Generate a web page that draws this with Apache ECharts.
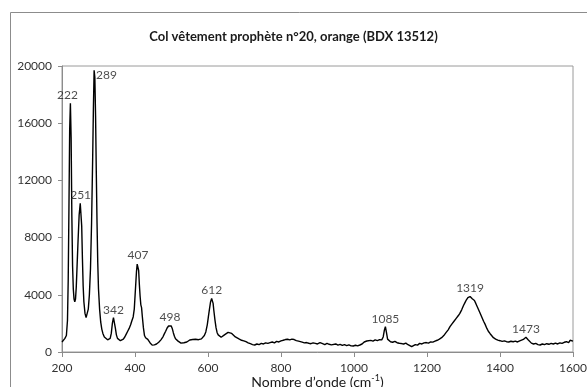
<!DOCTYPE html>
<html>
<head>
<meta charset="utf-8">
<script src="https://cdn.jsdelivr.net/npm/echarts@6/dist/echarts.min.js"></script>
<style>
  html, body { margin: 0; padding: 0; background: #fff; }
  #main { width: 587px; height: 387px; }
</style>
</head>
<body>
<div id="main"></div>
<script>
// wavenumber (cm-1) and intensity
const waveNumbers = [
  200, 204, 208, 212, 215, 217, 219, 221, 223, 225, 227, 229, 231, 233, 235, 237, 239, 241, 244, 247,
  250, 252, 254, 256, 258, 260, 263, 266, 269, 272, 275, 278, 281, 284, 286, 288, 290, 292, 294, 296,
  298, 300, 303, 306, 309, 312, 316, 320, 325, 329, 332, 335, 338, 341, 343, 346, 349, 352, 356, 360,
  364, 368, 372, 376, 380, 384, 388, 391, 395, 398, 401, 404, 406, 408, 410, 412, 414, 416, 418, 420,
  423, 426, 429, 432, 435, 438, 441, 444, 447, 450, 453, 456, 459, 462, 465, 468, 471, 474, 477, 480,
  484, 488, 492, 496, 499, 502, 505, 508, 511, 514, 518, 522, 526, 530, 534, 538, 542, 546, 550, 554,
  558, 562, 566, 570, 574, 578, 582, 586, 590, 594, 598, 601, 604, 607, 610, 612, 614, 616, 619, 622,
  625, 628, 632, 636, 640, 645, 650, 655, 660, 665, 670, 675, 680, 686, 692, 698, 704, 710, 716, 722,
  728, 734, 740, 746, 752, 758, 764, 770, 776, 782, 788, 794, 800, 806, 812, 818, 824, 830, 836, 842,
  848, 852, 858, 864, 870, 876, 882, 888, 894, 900, 907, 914, 920, 926, 932, 938, 943, 950, 956, 962,
  968, 974, 980, 986, 992, 998, 1004, 1010, 1016, 1022, 1028, 1035, 1040, 1046, 1052, 1058, 1064, 1070, 1076, 1080,
  1083, 1086, 1089, 1092, 1096, 1100, 1106, 1112, 1118, 1124, 1130, 1136, 1142, 1148, 1153, 1158, 1163, 1168, 1174, 1180,
  1186, 1192, 1198, 1204, 1210, 1216, 1222, 1228, 1234, 1240, 1246, 1252, 1258, 1263, 1268, 1274, 1280, 1286, 1290, 1295,
  1300, 1304, 1308, 1312, 1315, 1318, 1321, 1324, 1327, 1330, 1334, 1338, 1341, 1345, 1350, 1355, 1359, 1364, 1368, 1373,
  1377, 1382, 1388, 1394, 1400, 1406, 1412, 1418, 1424, 1430, 1436, 1442, 1448, 1454, 1459, 1464, 1468, 1471, 1474, 1477,
  1481, 1486, 1492, 1498, 1504, 1510, 1516, 1522, 1528, 1534, 1540, 1546, 1552, 1558, 1564, 1570, 1576, 1582, 1588, 1592,
  1596, 1600
];
const intensities = [
  700, 780, 950, 1150, 2200, 5000, 10000, 15500, 17400, 15000, 9500, 6000, 4400, 3700, 3500, 3700, 4500, 5800, 7800, 9600,
  10400, 10300, 8800, 6500, 4600, 3500, 2700, 2400, 2500, 3000, 4000, 5800, 9000, 13500, 17000, 19700, 19200, 16500, 12500, 9000,
  6200, 4400, 3000, 2100, 1600, 1300, 1050, 920, 850, 840, 950, 1300, 2000, 2400, 2350, 1700, 1200, 950, 830, 790,
  830, 900, 1050, 1250, 1450, 1650, 1900, 2150, 2450, 3000, 4300, 5600, 6150, 6250, 5700, 4700, 3900, 3300, 3100, 2500,
  1700, 1150, 1000, 950, 880, 800, 650, 520, 480, 560, 500, 470, 560, 610, 680, 740, 850, 950, 1080, 1250,
  1450, 1680, 1820, 1880, 1830, 1650, 1350, 1100, 920, 840, 760, 690, 620, 600, 650, 720, 700, 780, 840, 800,
  870, 820, 890, 910, 860, 840, 920, 1000, 1150, 1400, 1900, 2450, 3000, 3500, 3750, 3720, 3400, 2900, 2250, 1700,
  1350, 1200, 1080, 1030, 1100, 1200, 1300, 1370, 1380, 1300, 1180, 1050, 960, 900, 820, 780, 720, 640, 580, 520,
  490, 560, 520, 600, 560, 640, 600, 650, 700, 640, 740, 700, 780, 820, 870, 890, 850, 900, 870, 800,
  760, 720, 690, 640, 660, 610, 580, 640, 600, 560, 650, 580, 520, 600, 540, 500, 490, 560, 480, 530,
  460, 510, 450, 500, 430, 420, 470, 430, 490, 560, 700, 770, 720, 810, 760, 850, 800, 860, 850, 1050,
  1500, 1770, 1350, 900, 780, 720, 680, 740, 650, 610, 590, 560, 620, 510, 490, 370, 450, 520, 480, 600,
  560, 640, 660, 620, 700, 690, 760, 820, 900, 1000, 1150, 1350, 1550, 1770, 1950, 2150, 2350, 2550, 2700, 2950,
  3250, 3450, 3650, 3800, 3780, 3880, 3830, 3720, 3650, 3600, 3380, 3150, 3050, 2750, 2450, 2150, 1950, 1650, 1450, 1280,
  1180, 1000, 900, 830, 790, 740, 780, 720, 700, 750, 720, 760, 700, 780, 790, 880, 980, 1030, 1000, 860,
  730, 620, 560, 600, 520, 490, 560, 510, 580, 540, 600, 560, 620, 560, 640, 600, 680, 720, 650, 820,
  700, 760
];

// peak annotations
const peakNames = ['222', '251', '289', '342', '407', '498', '612', '1085', '1319', '1473'];
const peakX = [223, 251, 288, 341, 408, 496, 610, 1086, 1318, 1471];
const peakY = [17400, 10400, 19700, 2400, 6250, 1880, 3750, 1770, 3880, 1030];

const xTicks = [200, 1600, 200];   // min, max, interval
const yTicks = [0, 20000, 4000];

const fontFam = 'Lato, "Open Sans", sans-serif';

let spectrum = waveNumbers.map((w, i) => [w, intensities[i]]);

let peaks = peakNames.map((name, i) => {
    let lbl = { show: true, position: 'top', distance: 2 };
    if (name === '289') {
        lbl = { show: true, position: 'right', distance: 2, offset: [0, 5] };
    }
    if (name === '222') {
        lbl.offset = [-3, 0];
    }
    return { value: [peakX[i], peakY[i]], name: name, label: lbl };
});

let option = {
    animation: false,
    backgroundColor: '#fff',
    textStyle: { fontFamily: fontFam },
    title: {
        text: 'Col vêtement prophète n°20, orange (BDX 13512)',
        left: 'center',
        top: 25,
        textStyle: { fontSize: 13, fontWeight: 'bold', color: '#1a1a1a', fontFamily: fontFam }
    },
    graphic: [{
        type: 'rect',
        shape: { x: 10.5, y: 12.5, width: 620, height: 400 },
        style: { fill: 'none', stroke: '#8c8c8c', lineWidth: 1 },
        silent: true
    }],
    grid: {
        left: 62,
        right: 14,
        top: 66,
        bottom: 35,
        outerBoundsMode: 'none',
        show: true,
        borderColor: '#9a9a9a',
        borderWidth: 1
    },
    xAxis: {
        type: 'value',
        min: xTicks[0],
        max: xTicks[1],
        interval: xTicks[2],
        name: '{a|Nombre d’onde (cm}{s|-1}{a|)}',
        nameLocation: 'middle',
        nameGap: 22,
        nameMoveOverlap: false,
        nameTextStyle: {
            verticalAlign: 'top',
            rich: {
                a: { fontSize: 14, color: '#1a1a1a', fontFamily: fontFam },
                s: { fontSize: 9, color: '#1a1a1a', fontFamily: fontFam, padding: [0, 0, 8, 0] }
            }
        },
        splitLine: { show: false },
        axisLine: { lineStyle: { color: '#8c8c8c' } },
        axisTick: { show: true, length: 5, lineStyle: { color: '#8c8c8c' } },
        axisLabel: { fontSize: 12, color: '#333', margin: 10, fontFamily: fontFam, formatter: v => String(v) }
    },
    yAxis: {
        type: 'value',
        min: yTicks[0],
        max: yTicks[1],
        interval: yTicks[2],
        splitLine: { show: false },
        axisLine: { show: true, lineStyle: { color: '#8c8c8c' } },
        axisTick: { show: true, length: 4, lineStyle: { color: '#8c8c8c' } },
        axisLabel: { fontSize: 12, color: '#333', margin: 10, fontFamily: fontFam, formatter: v => String(v) }
    },
    series: [{
        name: 'spectre',
        type: 'line',
        data: spectrum,
        showSymbol: false,
        symbol: 'none',
        lineStyle: { color: '#000', width: 1.4 },
        z: 3
    }, {
        name: 'pics',
        type: 'scatter',
        data: peaks,
        symbolSize: 0,
        label: {
            show: true,
            formatter: '{b}',
            fontSize: 12,
            color: '#222',
            fontFamily: fontFam
        },
        z: 4
    }]
};

let main = document.getElementById('main');
echarts.init(main).setOption(option);
</script>
</body>
</html>
